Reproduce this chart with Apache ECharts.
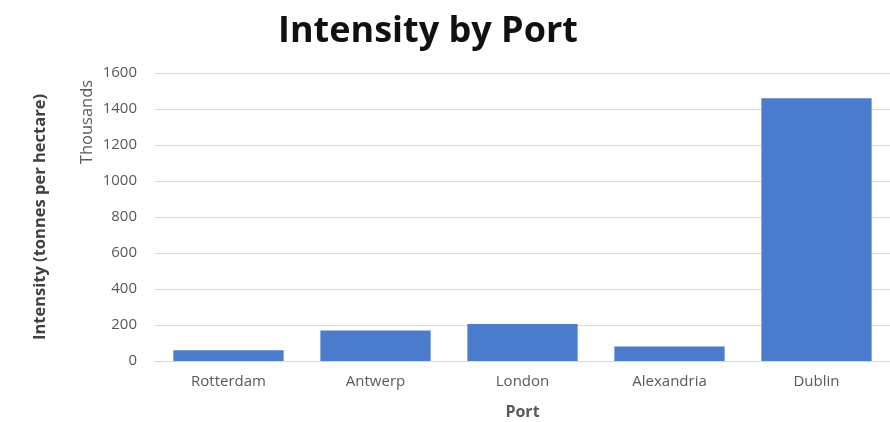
<!DOCTYPE html>
<html>
<head>
<meta charset="utf-8">
<script src="https://cdn.jsdelivr.net/npm/echarts@6/dist/echarts.min.js"></script>
<style>
  html, body { margin: 0; padding: 0; background: #ffffff; }
  #chart { width: 890px; height: 422px; }
</style>
</head>
<body>
<div id="chart"></div>
<script>
// Port intensity, in thousands of tonnes per hectare
const ports = ['Rotterdam', 'Antwerp', 'London', 'Alexandria', 'Dublin'];
const intensity = [60, 170, 205, 80, 1460];
const yTicks = { min: 0, max: 1600, interval: 200 };

const chart = echarts.init(document.getElementById('chart'), null, { renderer: 'canvas' });
const font = '"Open Sans", "Noto Sans", sans-serif';

chart.setOption({
  backgroundColor: '#ffffff',
  animation: false,
  title: {
    text: 'Intensity by Port',
    left: 423,
    top: 9,
    textAlign: 'center',
    textStyle: { fontFamily: font, fontSize: 36, fontWeight: 'bold', color: '#111111' }
  },
  grid: { left: 155, right: 0, top: 73, bottom: 61, containLabel: false, outerBoundsMode: 'none' },
  xAxis: {
    type: 'category',
    data: ports,
    name: 'Port',
    nameLocation: 'middle',
    nameGap: 51,
    nameTextStyle: { fontFamily: font, fontSize: 16, fontWeight: 'bold', color: '#595959', verticalAlign: 'middle' },
    axisLine: { show: true, lineStyle: { color: '#d9d9d9' } },
    axisTick: { show: false },
    axisLabel: { fontFamily: font, fontSize: 15, color: '#595959', margin: 13 }
  },
  yAxis: {
    type: 'value',
    min: yTicks.min,
    max: yTicks.max,
    interval: yTicks.interval,
    name: 'Intensity (tonnes per hectare)',
    nameLocation: 'middle',
    nameGap: 106,
    nameTextStyle: { fontFamily: font, fontSize: 16.5, fontWeight: 'bold', color: '#404040' },
    axisLine: { show: false },
    axisTick: { show: false },
    axisLabel: {
      fontFamily: font, fontSize: 15, color: '#595959', margin: 18,
      formatter: v => String(v)
    },
    splitLine: { lineStyle: { color: '#d9d9d9', width: 1 } }
  },
  graphic: [{
    type: 'text',
    x: 87,
    y: 122,
    rotation: Math.PI / 2,
    style: {
      text: 'Thousands',
      fontFamily: font,
      fontSize: 16.5,
      fill: '#595959',
      align: 'center',
      verticalAlign: 'middle'
    }
  }],
  series: [{
    type: 'bar',
    data: intensity,
    barWidth: '75%',
    itemStyle: { color: '#4a7bcc' }
  }]
});
</script>
</body>
</html>
